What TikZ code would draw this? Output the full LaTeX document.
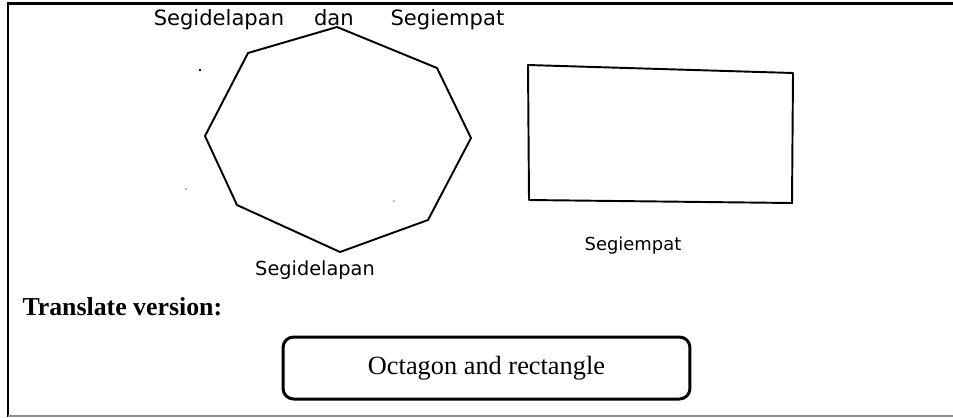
\documentclass[tikz,border=0pt]{standalone}
\usepackage{fontspec}
\setmainfont{Liberation Serif}
\newfontfamily\handfont{DejaVu Sans}

\begin{document}
\begin{tikzpicture}[x=0.02cm, y=-0.02cm, semithick,
    frameline/.style={line width=1.2pt},
    shapeline/.style={line width=1.1pt, line join=round},
    hand/.style={font=\handfont\fontsize{#1}{14}\selectfont, inner sep=0pt, anchor=base},
    strayspot/.style={fill=#1, draw=none},
    answer/.style={draw, line width=1.7pt, rounded corners=6pt,
      minimum width=8.14cm, minimum height=1.24cm,
      font=\fontsize{15}{18}\selectfont}]
      \useasboundingbox (0,0) rectangle (953,417);

      % frame
      \draw[frameline] (953,3.5) -- (8,3.5) -- (8,417);
      \draw[line width=0.9pt, black!45] (8,416) -- (953,416);

      % octagon
      \draw[shapeline] (337,27) -- (437,68) -- (471,138) -- (428,220)
        -- (340,252) -- (237,205) -- (205,136) -- (248,53) -- cycle;
      \fill[strayspot=black] (200,70) circle (1.4);
      \fill[strayspot=black!40] (186,189) circle (1);
      \fill[strayspot=black!40] (394,201) circle (1);

      % rectangle
      \draw[shapeline] (528,65) -- (793,73) -- (792,203) -- (529,200) -- cycle;

      % handwritten labels
      \node[hand=12] (title) at (329,25) {Segidelapan\hspace{17pt}dan\hspace{21pt}Segiempat};
      \node[hand=11] (octlabel) at (315,275) {Segidelapan};
      \node[hand=10.2] (rectlabel) at (633,250) {Segiempat};

      % translation
      \node[anchor=base west, inner sep=0pt, font=\bfseries\fontsize{14.7}{17}\selectfont]
        (translate) at (22,315) {Translate version:};
      \node[answer] (answerbox) at (486.5,368) {Octagon and rectangle};
    \end{tikzpicture}
\end{document}
